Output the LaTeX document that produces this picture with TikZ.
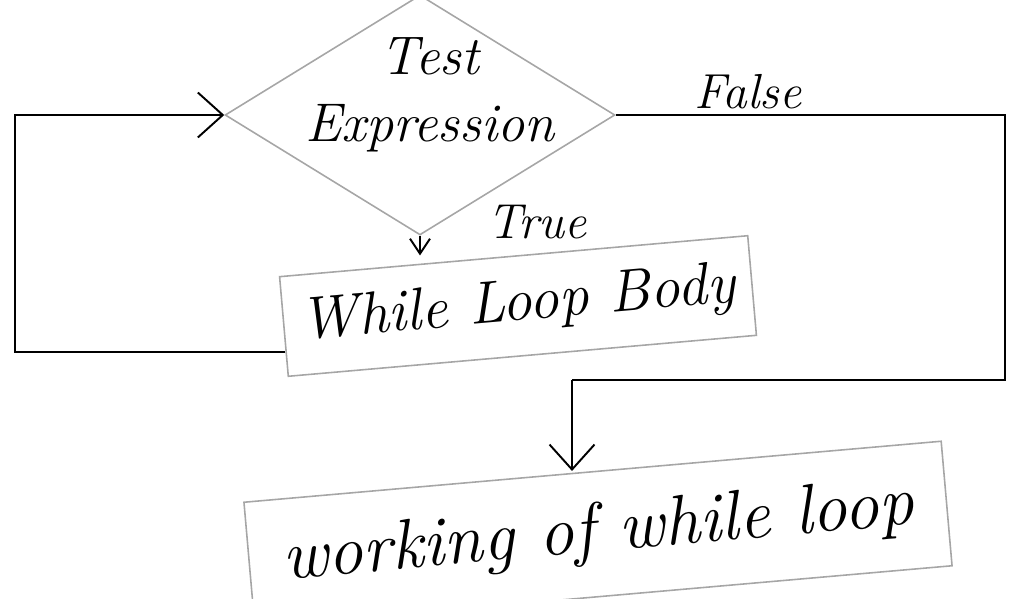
\documentclass[tikz,border=0pt]{standalone}
\usepackage{tikz}
\usetikzlibrary{shapes.geometric, arrows.meta, positioning, calc}
\tikzset{
	decision/.style ={diamond, draw=gray!70, line width=0.9pt, aspect=1.6, minimum width=7.8cm, minimum height=4.8cm, inner sep=0pt},
	process/.style  ={rectangle, draw=gray!70, line width=0.9pt, align=center, rotate=5},
	hand/.style     ={font=\fontsize{31}{38}\selectfont\itshape, align=center},
	lbl/.style      ={font=\fontsize{28}{32}\selectfont\itshape},
	flowline/.style ={line width=1.1pt},
	flowarrow/.style={-{Straight Barb[length=5mm, width=9mm]}, line width=1.1pt},
	smallarrow/.style={-{Straight Barb[length=3mm, width=4mm]}, line width=1.1pt},
}
\begin{document}
\begin{tikzpicture}[x=0.02cm, y=-0.02cm]
	\useasboundingbox (0,0) rectangle (1013,598);
	% boxes
	\node[decision] (test) at (420,115) {};
	\node[hand] (testtxt) at (430,95) {Test\\Expression};
	\node[process, hand, minimum width=9.4cm, minimum height=2cm, font=\fontsize{34}{40}\selectfont\itshape] (body) at (518,306) {While Loop Body};
	\node[process, hand, minimum width=14cm, minimum height=2.5cm, font=\fontsize{40}{46}\selectfont\itshape] (work) at (598,534) {working of while loop};
	% branch labels
	\node[lbl] (true) at (537,222) {True};
	\node[lbl] (false) at (748,92) {False};
	% bends
	\coordinate (back) at ($(body.south west)!0.25!(body.north west)$);
	\coordinate (lcorner) at (15,115);
	\coordinate (rcorner) at (1005,115);
	\coordinate (join) at (572,380);
	% connectors
	\draw[smallarrow] (test.south) -- (test.south |- body.north);
	\draw[flowarrow] (back) -| (lcorner) -- (test.west);
	\draw[flowline] (test.east) -- (rcorner) |- (join);
	\draw[flowarrow] (join) -- (join |- work.north);
\end{tikzpicture}
\end{document}
